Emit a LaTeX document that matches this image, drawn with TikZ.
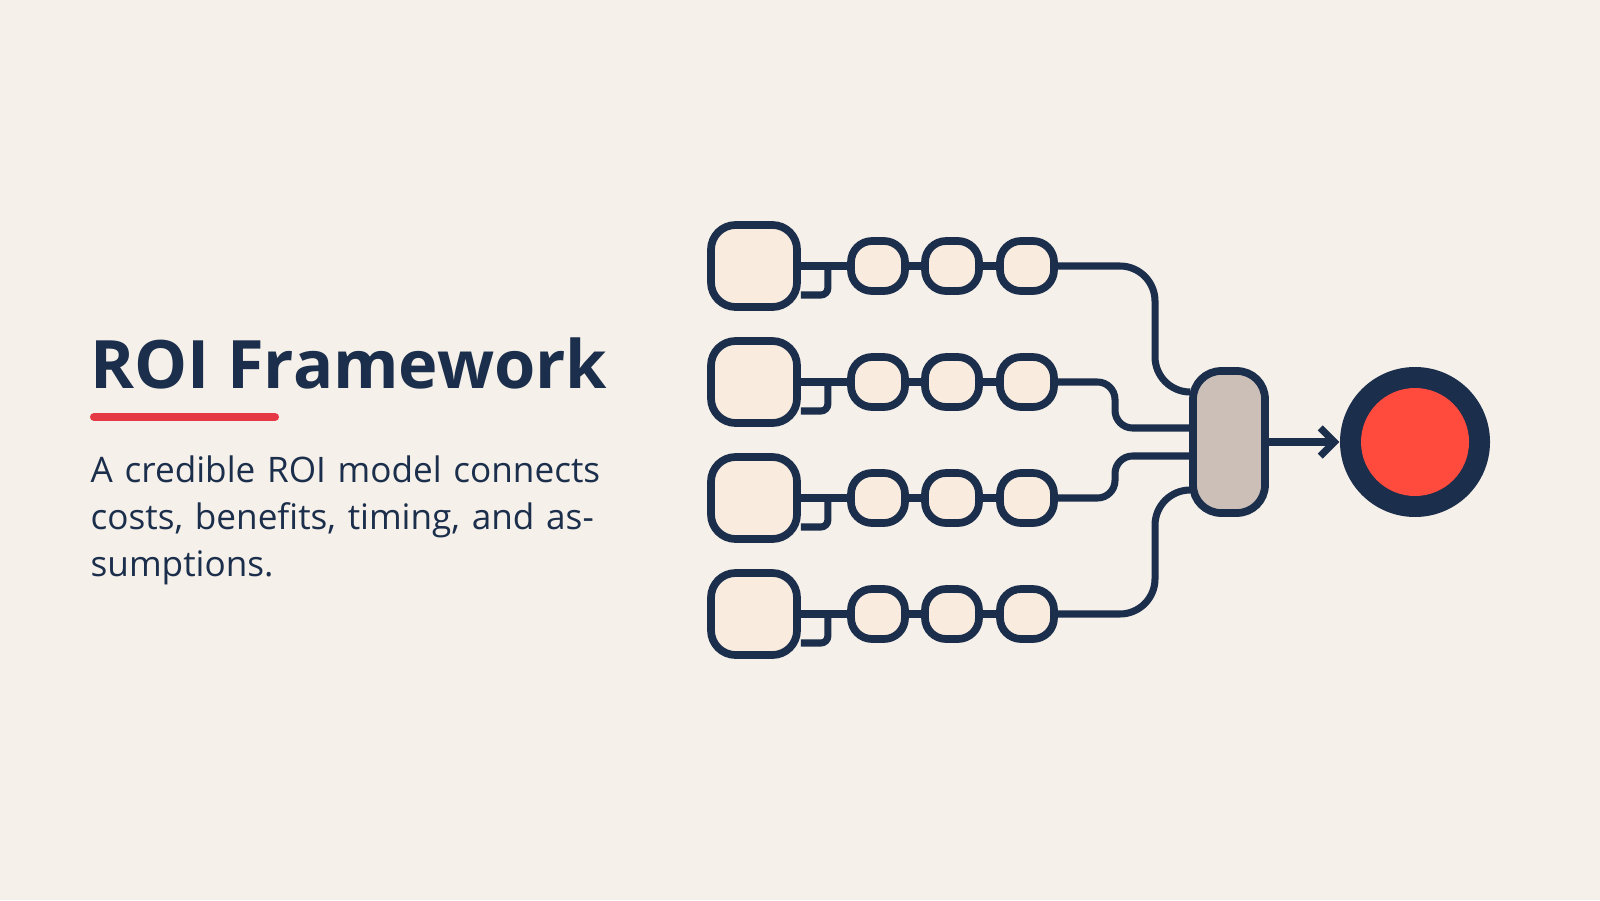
\documentclass[tikz,border=0pt]{standalone}
\usepackage{fontspec}
\setmainfont{Open Sans}
\usetikzlibrary{positioning,arrows.meta}
\definecolor{roiNavy}{HTML}{1B2E4B}
\definecolor{roiBg}{HTML}{F5F0E9}
\definecolor{roiBox}{HTML}{FAEBDF}
\definecolor{roiGrey}{HTML}{CBBFB7}
\definecolor{roiRed}{HTML}{FF4B3E}
\definecolor{roiLine}{HTML}{E63946}
\tikzset{
  wire/.style={draw=roiNavy, line width=2pt, rounded corners=6pt},
  bigbox/.style={draw=roiNavy, line width=2.2pt, fill=roiBox, rounded corners=7pt, minimum width=0.86cm, minimum height=0.82cm},
  smallbox/.style={draw=roiNavy, line width=2.2pt, fill=roiBox, rounded corners=6pt, minimum width=0.54cm, minimum height=0.5cm}
}
\begin{document}
\begin{tikzpicture}[x=1cm,y=1cm]
    \fill[roiBg] (0,0) rectangle (16,9);
    \useasboundingbox (0,0) rectangle (16,9);
    % Title and text
    \node[anchor=base west, inner sep=0, font=\fontsize{19}{24}\selectfont\bfseries, text=roiNavy] (title) at (0.9,5.12) {ROI Framework};
    \draw[roiLine, line width=2.3pt, line cap=round] (0.94,4.83) -- (2.75,4.83);
    \node[anchor=north west, inner sep=0, align=left, text width=5.8cm, font=\fontsize{10}{13.4}\selectfont, text=roiNavy] (desc) at (0.9,4.45) {\hyphenpenalty=10000\raggedright A credible ROI model connects costs, benefits, timing, and assumptions.};
    % Rows of boxes
    \foreach \r/\y in {1/6.34,2/5.18,3/4.02,4/2.86} {
        \node[bigbox] (b\r) at (7.54,\y) {};
        \node[smallbox] (s\r a) at (8.78,\y) {};
        \node[smallbox] (s\r b) at (9.52,\y) {};
        \node[smallbox] (s\r c) at (10.27,\y) {};
        \draw[wire] (b\r.east) -- (s\r a.west);
        \draw[wire, rounded corners=2pt] ([yshift=-0.29cm]b\r.east) -| ([xshift=0.27cm]b\r.east);
        \draw[wire] (s\r a) -- (s\r b);
        \draw[wire] (s\r b) -- (s\r c);
    }
    % Merge and result
    \node[draw=roiNavy, line width=2.2pt, fill=roiGrey, rounded corners=8pt, minimum width=0.72cm, minimum height=1.42cm] (merge) at (12.29,4.58) {};
    \node[circle, fill=roiNavy, minimum size=1.5cm] (goal) at (14.15,4.58) {};
    \node[circle, fill=roiRed, minimum size=1.08cm] (core) at (goal) {};
    \draw[wire, rounded corners=10pt] (s1c.east) -- (11.55,6.34) -- (11.55,5.08) -- ([yshift=0.5cm]merge.west);
    \draw[wire, rounded corners=5pt] (s2c.east) -- (11.15,5.18) -- (11.15,4.72) -- ([yshift=0.14cm]merge.west);
    \draw[wire, rounded corners=5pt] (s3c.east) -- (11.15,4.02) -- (11.15,4.44) -- ([yshift=-0.14cm]merge.west);
    \draw[wire, rounded corners=10pt] (s4c.east) -- (11.55,2.86) -- (11.55,4.1) -- ([yshift=-0.48cm]merge.west);
    \draw[wire, -{Straight Barb[length=4pt,width=8pt]}] (merge.east) -- (goal.west);
\end{tikzpicture}
\end{document}
